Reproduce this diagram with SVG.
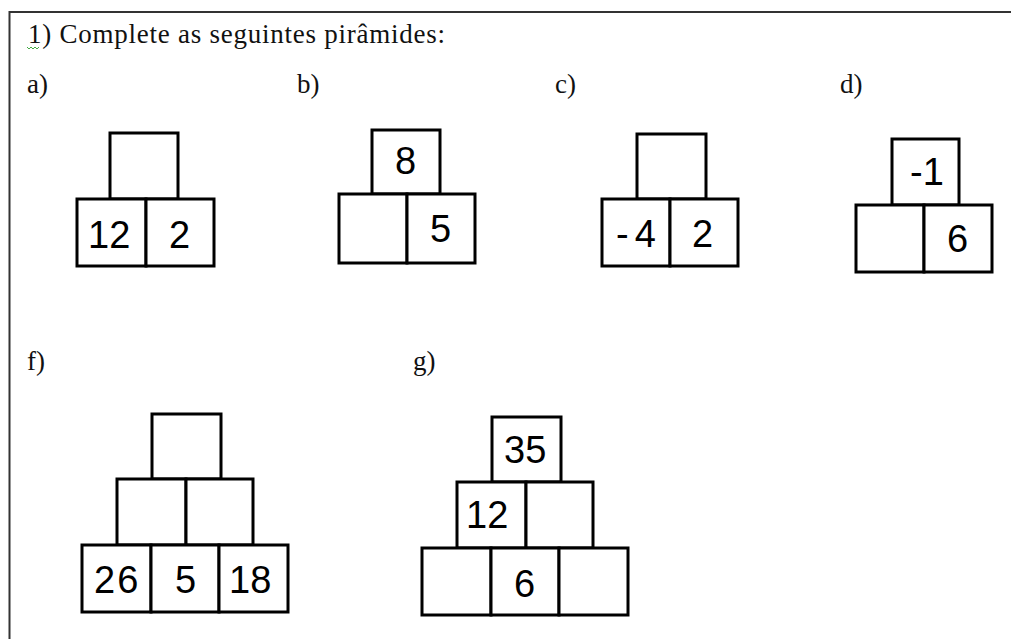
<svg xmlns="http://www.w3.org/2000/svg" width="1011" height="639" viewBox="0 0 1011 639">
<style>
.lbl{font-family:"Liberation Serif","Times New Roman",serif;font-size:27px;fill:#111}
.box{fill:#fff;stroke:#000;stroke-width:3}
.num{font-family:"Liberation Sans",Arial,sans-serif;font-size:38px;fill:#000}
</style>
<rect width="1011" height="639" fill="#fff"/>
<path d="M9.5,660 V12 H1020" fill="none" stroke="#333" stroke-width="2"/>
<text class="lbl" x="28" y="43" textLength="417" lengthAdjust="spacing">1) Complete as seguintes pirâmides:</text>
<path d="M27,47 l2,2 l2,-2 l2,2 l2,-2 l2,2 l2,-2" fill="none" stroke="#4a4" stroke-width="1"/>
<text class="lbl" x="27" y="93">a)</text>
<text class="lbl" x="297" y="93">b)</text>
<text class="lbl" x="555" y="93">c)</text>
<text class="lbl" x="840" y="93">d)</text>
<text class="lbl" x="27" y="370">f)</text>
<text class="lbl" x="413" y="370">g)</text>
<g id="pyramid-a">
<rect class="box" x="110" y="133" width="68" height="66"/>
<rect class="box" x="77" y="199" width="69" height="67"/>
<rect class="box" x="146" y="199" width="68" height="67"/>
<text class="num" x="88" y="248">12</text>
<text class="num" x="169" y="248">2</text>
</g>
<g id="pyramid-b">
<rect class="box" x="372" y="130" width="68" height="64"/>
<rect class="box" x="339" y="194" width="68" height="69"/>
<rect class="box" x="407" y="194" width="68" height="69"/>
<text class="num" x="395" y="174">8</text>
<text class="num" x="430" y="242">5</text>
</g>
<g id="pyramid-c">
<rect class="box" x="637" y="134" width="69" height="65"/>
<rect class="box" x="602" y="199" width="68" height="67"/>
<rect class="box" x="670" y="199" width="68" height="67"/>
<text class="num" x="616" y="247" letter-spacing="6">-4</text>
<text class="num" x="692" y="247">2</text>
</g>
<g id="pyramid-d">
<rect class="box" x="892" y="139" width="67" height="66"/>
<rect class="box" x="856" y="205" width="68" height="67"/>
<rect class="box" x="924" y="205" width="68" height="67"/>
<text class="num" x="910" y="185">-1</text>
<text class="num" x="947" y="252">6</text>
</g>
<g id="pyramid-f">
<rect class="box" x="152" y="414" width="69" height="65"/>
<rect class="box" x="117" y="479" width="69" height="66"/>
<rect class="box" x="186" y="479" width="67" height="66"/>
<rect class="box" x="82" y="545" width="69" height="67"/>
<rect class="box" x="151" y="545" width="68" height="67"/>
<rect class="box" x="219" y="545" width="69" height="67"/>
<text class="num" x="94" y="593" letter-spacing="2">26</text>
<text class="num" x="175" y="593">5</text>
<text class="num" x="229" y="593">18</text>
</g>
<g id="pyramid-g">
<rect class="box" x="492" y="417" width="69" height="65"/>
<rect class="box" x="457" y="482" width="69" height="66"/>
<rect class="box" x="526" y="482" width="67" height="66"/>
<rect class="box" x="422" y="548" width="69" height="67"/>
<rect class="box" x="491" y="548" width="68" height="67"/>
<rect class="box" x="559" y="548" width="69" height="67"/>
<text class="num" x="504" y="463">35</text>
<text class="num" x="466" y="528">12</text>
<text class="num" x="514" y="597">6</text>
</g>
<g id="connectors"/>
</svg>
